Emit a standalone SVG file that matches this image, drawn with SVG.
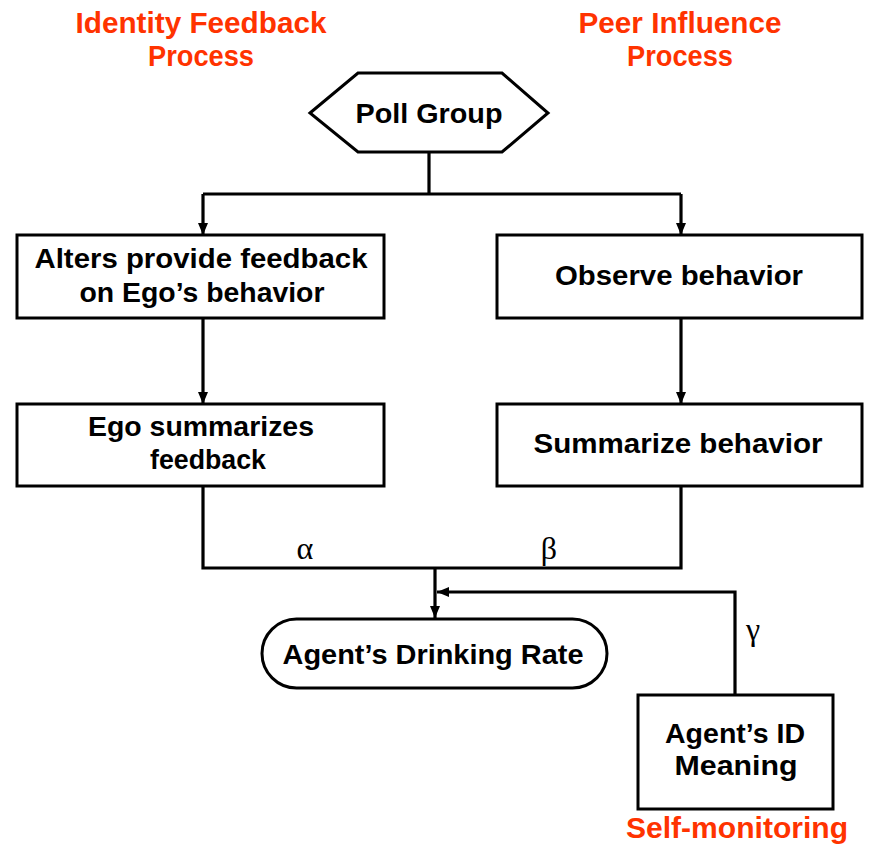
<svg xmlns="http://www.w3.org/2000/svg" width="871" height="848" viewBox="0 0 871 848">
<style>
.box{fill:#fff;stroke:#000;stroke-width:3}
.t{font-family:"Liberation Sans",Arial,sans-serif;font-weight:bold;font-size:28px;fill:#000;text-anchor:middle}
.r{font-family:"Liberation Sans",Arial,sans-serif;font-weight:bold;font-size:29px;fill:#FF3300;text-anchor:middle}
.g{font-family:"Liberation Serif","Times New Roman",serif;font-size:32px;fill:#000;text-anchor:middle}
.c{fill:none;stroke:#000;stroke-width:3.2}
</style>
<defs>
<marker id="ah" viewBox="0 0 12 10" refX="12" refY="5" markerWidth="12" markerHeight="10" markerUnits="userSpaceOnUse" orient="auto">
<path d="M0,0 L12,5 L0,10 Z" fill="#000"/>
</marker>
</defs>
<g id="labels">
<text class="r" x="201" y="33" textLength="251" lengthAdjust="spacingAndGlyphs">Identity Feedback</text>
<text class="r" x="201" y="66" textLength="106" lengthAdjust="spacingAndGlyphs">Process</text>
<text class="r" x="680" y="33" textLength="203" lengthAdjust="spacingAndGlyphs">Peer Influence</text>
<text class="r" x="680" y="66" textLength="106" lengthAdjust="spacingAndGlyphs">Process</text>
<text class="r" x="737" y="838" textLength="222" lengthAdjust="spacingAndGlyphs">Self-monitoring</text>
</g>
<g id="connectors">
<path class="c" d="M429,152 V194 M203,194 H681"/>
<path class="c" d="M203,194 V235" marker-end="url(#ah)"/>
<path class="c" d="M681,194 V235" marker-end="url(#ah)"/>
<path class="c" d="M203,318 V404" marker-end="url(#ah)"/>
<path class="c" d="M681,318 V404" marker-end="url(#ah)"/>
<path class="c" d="M203,486 V568 H681 V486"/>
<path class="c" d="M435,568 V618" marker-end="url(#ah)"/>
<path class="c" d="M735,695 V592 H437" marker-end="url(#ah)"/>
<text class="g" x="305" y="559">α</text>
<text class="g" x="549" y="559">β</text>
<text class="g" x="753" y="640">γ</text>
</g>
<g id="poll-group">
<polygon class="box" points="310,113 358,73 502,73 548,113 502,152 358,152"/>
<text class="t" x="429" y="123" textLength="147" lengthAdjust="spacingAndGlyphs">Poll Group</text>
</g>
<g id="alters-feedback">
<rect class="box" x="17" y="235" width="367" height="83"/>
<text class="t" x="201" y="268" textLength="333" lengthAdjust="spacingAndGlyphs">Alters provide feedback</text>
<text class="t" x="202" y="302" textLength="245" lengthAdjust="spacingAndGlyphs">on Ego’s behavior</text>
</g>
<g id="observe-behavior">
<rect class="box" x="497" y="235" width="365" height="83"/>
<text class="t" x="679" y="285" textLength="248" lengthAdjust="spacingAndGlyphs">Observe behavior</text>
</g>
<g id="ego-summarizes">
<rect class="box" x="17" y="404" width="367" height="82"/>
<text class="t" x="201" y="436" textLength="226" lengthAdjust="spacingAndGlyphs">Ego summarizes</text>
<text class="t" x="208" y="469" textLength="116" lengthAdjust="spacingAndGlyphs">feedback</text>
</g>
<g id="summarize-behavior">
<rect class="box" x="497" y="404" width="365" height="82"/>
<text class="t" x="678" y="453" textLength="289" lengthAdjust="spacingAndGlyphs">Summarize behavior</text>
</g>
<g id="drinking-rate">
<rect class="box" x="262" y="619" width="345" height="69" rx="34.5" ry="34.5"/>
<text class="t" x="433" y="664" textLength="301" lengthAdjust="spacingAndGlyphs">Agent’s Drinking Rate</text>
</g>
<g id="id-meaning">
<rect class="box" x="638" y="695" width="195" height="114"/>
<text class="t" x="735" y="743" textLength="140" lengthAdjust="spacingAndGlyphs">Agent’s ID</text>
<text class="t" x="736" y="775" textLength="123" lengthAdjust="spacingAndGlyphs">Meaning</text>
</g>
</svg>
